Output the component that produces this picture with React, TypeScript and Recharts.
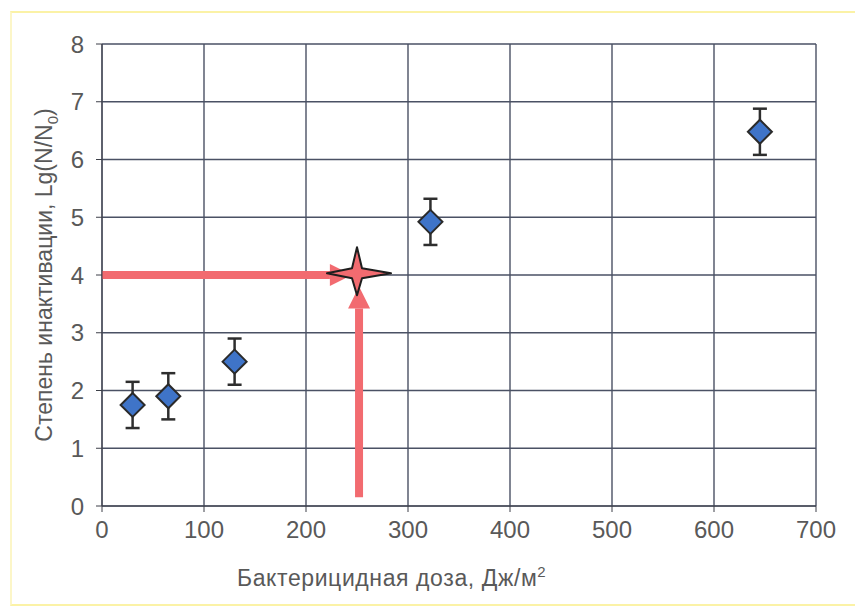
import {
  ScatterChart,
  Scatter,
  XAxis,
  YAxis,
  CartesianGrid,
  ErrorBar,
  ReferenceLine,
  ReferenceDot,
} from "recharts"

const doses = [30, 65, 130, 322, 645]
const inactivation = [1.75, 1.9, 2.5, 4.92, 6.48]
const errors = [0.4, 0.4, 0.4, 0.4, 0.4]

const xTicks = [0, 100, 200, 300, 400, 500, 600, 700]
const yTicks = [0, 1, 2, 3, 4, 5, 6, 7, 8]

// point: dose for 4 lg inactivation
const targetDose = 250
const targetLevel = 4

const data = doses.map((d, i) => ({ dose: d, lg: inactivation[i], err: errors[i] }))

const ARROW = "#f26b70"
const FONT = "'Liberation Sans', Arial, sans-serif"

function Diamond(props: any) {
  const { cx, cy } = props
  const r = 12
  return (
    <polygon
      points={`${cx},${cy - r} ${cx + r},${cy} ${cx},${cy + r} ${cx - r},${cy}`}
      fill="#3f74c8"
      stroke="#2a2a2a"
      strokeWidth={2}
    />
  )
}

function Arrow(props: any) {
  const { x1, y1, x2, y2 } = props
  const dx = x2 - x1
  const dy = y2 - y1
  const len = Math.sqrt(dx * dx + dy * dy)
  const ux = dx / len
  const uy = dy / len
  const head = 22
  const half = 11
  const bx = x2 - ux * head
  const by = y2 - uy * head
  return (
    <g>
      <line x1={x1} y1={y1} x2={bx} y2={by} stroke={ARROW} strokeWidth={8} />
      <polygon
        points={`${x2},${y2} ${bx - uy * half},${by + ux * half} ${bx + uy * half},${by - ux * half}`}
        fill={ARROW}
      />
    </g>
  )
}

function Star(props: any) {
  const { cx, cy } = props
  const pts = [
    [cx, cy - 26],
    [cx + 5, cy - 5],
    [cx + 34, cy],
    [cx + 5, cy + 5],
    [cx, cy + 22],
    [cx - 5, cy + 5],
    [cx - 30, cy],
    [cx - 5, cy - 5],
  ]
  return (
    <polygon
      points={pts.map((p) => p.join(",")).join(" ")}
      fill={ARROW}
      stroke="#1e1e1e"
      strokeWidth={2}
      strokeLinejoin="round"
    />
  )
}

export default function App() {
  return (
    <div style={{ position: "absolute", left: 0, top: 0, width: 855, height: 606, background: "#fff" }}>
      <div
        style={{
          position: "absolute",
          left: 10,
          top: 11,
          width: 845,
          height: 591,
          borderTop: "2px solid #fbf2a6",
          borderLeft: "2px solid #fcf6c8",
          borderBottom: "2px solid #fbf2a6",
        }}
      />
      <ScatterChart width={855} height={606} margin={{ top: 44, right: 39, bottom: 0, left: 42 }}>
        <CartesianGrid stroke="#4a5164" strokeWidth={1.4} />
        <XAxis
          type="number"
          dataKey="dose"
          domain={[0, 700]}
          ticks={xTicks}
          height={100}
          stroke="#3c3f48"
          tickSize={6}
          tickMargin={9}
          tick={{ fill: "#595959", fontSize: 24, fontFamily: FONT }}
        />
        <YAxis
          type="number"
          dataKey="lg"
          domain={[0, 8]}
          ticks={yTicks}
          width={60}
          stroke="#3c3f48"
          tickSize={6}
          tickMargin={12}
          tick={{ fill: "#595959", fontSize: 24, fontFamily: FONT }}
        />
        <ReferenceLine segment={[{ x: 0, y: targetLevel }, { x: 245, y: targetLevel }]} shape={Arrow} />
        <ReferenceLine segment={[{ x: 252, y: 0.15 }, { x: 252, y: 3.8 }]} shape={Arrow} />
        <ReferenceDot x={targetDose} y={4.03} shape={Star} />
        <Scatter data={data} shape={Diamond} isAnimationActive={false}>
          <ErrorBar dataKey="err" direction="y" width={7} stroke="#2e2e2e" strokeWidth={2.5} />
        </Scatter>
      </ScatterChart>
      <div
        style={{
          position: "absolute",
          left: 237,
          top: 563,
          fontFamily: FONT,
          fontSize: 23,
          letterSpacing: 0.6,
          color: "#595959",
          whiteSpace: "nowrap",
        }}
      >
        Бактерицидная доза, Дж/м<sup style={{ fontSize: 15 }}>2</sup>
      </div>
      <div
        style={{
          position: "absolute",
          left: 46,
          top: 275,
          transform: "translate(-50%, -50%) rotate(-90deg)",
          fontFamily: FONT,
          fontSize: 23,
          color: "#595959",
          whiteSpace: "nowrap",
        }}
      >
        Степень инактивации, Lg(N/N<sub style={{ fontSize: 15 }}>0</sub>)
      </div>
    </div>
  )
}
